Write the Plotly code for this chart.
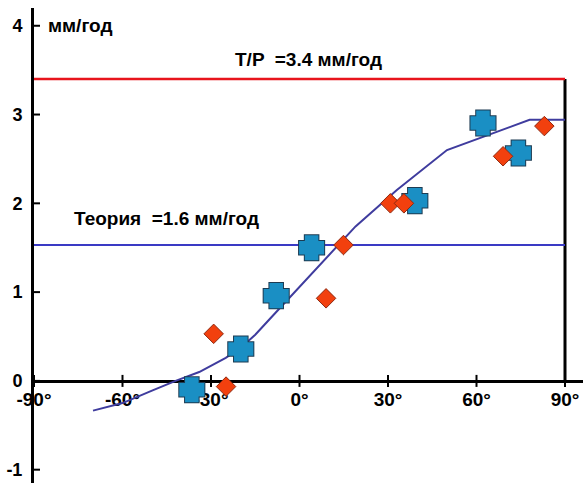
import plotly.graph_objects as go

# ---- data ----
x_ticks = [-90, -60, -30, 0, 30, 60, 90]
x_tick_labels = ["-90°", "-60°", "-30°", "0°", "30°", "60°", "90°"]
y_ticks = [-1, 0, 1, 2, 3, 4]
y_tick_labels = ["-1", "0", "1", "2", "3", "4"]

tp_level = 3.4
theory_level = 1.53

curve_x = [-70, -60, -50, -42, -34, -30, -25, -20, -15, -10, 0, 10, 19, 33, 50, 78, 90]
curve_y = [-0.335, -0.25, -0.11, 0.0, 0.10, 0.17, 0.26, 0.37, 0.52, 0.70, 1.06, 1.42, 1.74, 2.15, 2.60, 2.94, 2.94]

cross_x = [-36.5, -19.9, -7.9, 4.1, 39.1, 62.2, 74.2]
cross_y = [-0.10, 0.36, 0.96, 1.50, 2.03, 2.905, 2.567]

diamond_x = [-29.1, -24.9, 9.0, 14.9, 30.8, 35.4, 69.0, 83.0]
diamond_y = [0.53, -0.064, 0.93, 1.53, 2.0, 2.0, 2.53, 2.87]

# ---- styles ----
FONT = "Liberation Sans, Arial, sans-serif"
x_min, x_max = x_ticks[0], x_ticks[-1]

fig = go.Figure()

fig.add_trace(go.Scatter(x=[x_min, x_max], y=[tp_level, tp_level], mode="lines",
                         line=dict(color="#E8141C", width=2.5), hoverinfo="skip"))
fig.add_trace(go.Scatter(x=[x_min, x_max], y=[theory_level, theory_level], mode="lines",
                         line=dict(color="#3A3AC4", width=2), hoverinfo="skip"))
fig.add_trace(go.Scatter(x=curve_x, y=curve_y, mode="lines",
                         line=dict(color="#3F3C9E", width=2), hoverinfo="skip"))

# thick crosses: outline layer + fill layer
fig.add_trace(go.Scatter(x=cross_x, y=cross_y, mode="markers",
                         marker=dict(symbol="cross", size=14.4, color="#1D3B52",
                                     line=dict(color="#1D3B52", width=9.8))))
fig.add_trace(go.Scatter(x=cross_x, y=cross_y, mode="markers",
                         marker=dict(symbol="cross", size=14.4, color="#1A8FC4",
                                     line=dict(color="#1A8FC4", width=7.8))))

fig.add_trace(go.Scatter(x=diamond_x, y=diamond_y, mode="markers",
                         marker=dict(symbol="diamond", size=15, color="#F2400E",
                                     line=dict(color="#8E2A12", width=1))))

# right frame line at 90°
fig.add_shape(type="line", x0=x_max, x1=x_max, y0=0, y1=tp_level,
              line=dict(color="black", width=3), layer="below")

# crossing tick marks
for v in x_ticks:
    fig.add_shape(type="line", xref="x", yref="y", x0=v, x1=v,
                  ysizemode="pixel", yanchor=0, y0=-6, y1=6,
                  line=dict(color="black", width=2), layer="below")
for v in y_ticks:
    fig.add_shape(type="line", xref="x", yref="y", y0=v, y1=v,
                  xsizemode="pixel", xanchor=x_min, x0=-6, x1=6,
                  line=dict(color="black", width=2), layer="below")

ann_font = dict(family=FONT, size=19, color="black", weight="bold")
fig.add_annotation(x=-86, y=4.0, text="мм/год", showarrow=False,
                   xanchor="left", yanchor="middle", font=ann_font)
fig.add_annotation(x=-22.7, y=3.62, text="T/P \u00a0=3.4 мм/год", showarrow=False,
                   xanchor="left", yanchor="middle", font=ann_font)
fig.add_annotation(x=-77, y=1.83, text="Теория \u00a0=1.6 мм/год", showarrow=False,
                   xanchor="left", yanchor="middle", font=ann_font)

y_range = [-1.15, 4.2]
x_range = [x_min, 96.1]
x_axis_pos = (0 - y_range[0]) / (y_range[1] - y_range[0])

fig.update_layout(
    width=585, height=483,
    margin=dict(l=34, r=2, t=8, b=0),
    plot_bgcolor="white", paper_bgcolor="white",
    showlegend=False,
    xaxis=dict(range=x_range, tickvals=x_ticks, ticktext=x_tick_labels,
               showgrid=False, zeroline=False, showline=True, linecolor="black",
               linewidth=3, ticks="", anchor="free", position=x_axis_pos,
               layer="below traces", automargin=False,
               tickfont=dict(family=FONT, size=19, color="black", weight="bold")),
    yaxis=dict(range=y_range, tickvals=y_ticks, ticktext=y_tick_labels,
               showgrid=False, zeroline=False, showline=True, linecolor="black",
               linewidth=3, ticks="", ticklabelstandoff=5, layer="below traces",
               automargin=False,
               tickfont=dict(family=FONT, size=18, color="black", weight="bold")),
)

fig.write_html("out.html")
